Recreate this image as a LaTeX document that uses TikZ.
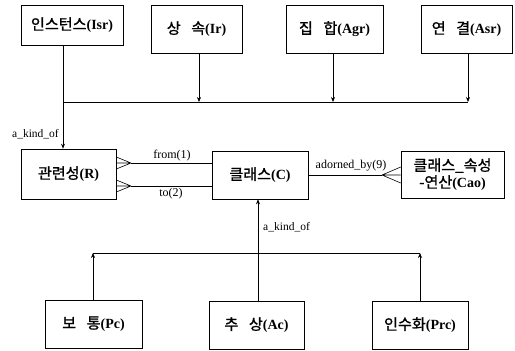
\documentclass[tikz,border=0pt]{standalone}
\usepackage{fontspec}
\setmainfont{Liberation Serif}
\newfontfamily\kr{Noto Sans CJK KR}[Scale=1.08, FakeBold=1.2]
\usetikzlibrary{arrows.meta}
\tikzset{
  box/.style={draw, line width=0.6pt, inner sep=0pt, align=center, font=\fontsize{14}{17}\selectfont},
  conn/.style={line width=0.6pt},
  arr/.style={conn, -{Stealth[length=5pt,width=4pt]}},
  lbl/.style={font=\fontsize{11.5}{12}\selectfont, inner sep=1pt},
}
\newcommand{\kb}[1]{{\kr #1}}
\newcommand{\ksp}{\hspace{0.7em}}
\begin{document}
\begin{tikzpicture}[x=1pt,y=-1pt]
\useasboundingbox (0,0) rectangle (515,351);
% top row
\node[box, minimum width=102pt, minimum height=40pt] (Isr) at (72,25) {\kb{인스턴스}\textbf{(Isr)}};
\node[box, minimum width=91pt, minimum height=48pt] (Ir) at (196.5,29) {\kb{상\ksp 속}\textbf{(Ir)}};
\node[box, minimum width=97pt, minimum height=48pt] (Agr) at (334.5,29) {\kb{집\ksp 합}\textbf{(Agr)}};
\node[box, minimum width=91pt, minimum height=48pt] (Asr) at (466.5,29) {\kb{연\ksp 결}\textbf{(Asr)}};
% middle row
\node[box, minimum width=95pt, minimum height=50pt] (R) at (68.5,174) {\kb{관련성}\textbf{(R)}};
\node[box, minimum width=96pt, minimum height=48pt] (C) at (260,175) {\kb{클래스}\textbf{(C)}};
\node[box, minimum width=103pt, minimum height=47pt] (Cao) at (452.5,174.5) {\kb{클래스\_속성}\\\kb{-연산}\textbf{(Cao)}};
% bottom row
\node[box, minimum width=97pt, minimum height=48pt] (Pc) at (93.5,324) {\kb{보\ksp 통}\textbf{(Pc)}};
\node[box, minimum width=95pt, minimum height=48pt] (Ac) at (256.5,325) {\kb{추\ksp 상}\textbf{(Ac)}};
\node[box, minimum width=96pt, minimum height=48pt] (Prc) at (420,325) {\kb{인수화}\textbf{(Prc)}};
% junction coordinates
\coordinate (j1) at (63,102);
\coordinate (jIr) at (199,102);
\coordinate (jAgr) at (333,102);
\coordinate (jAsr) at (468,102);
\coordinate (b1) at (93,253);
\coordinate (b2) at (258,253);
\coordinate (b3) at (420,253);
% top connectors
\draw[arr] (Isr.south -| j1) -- (R.north -| j1);
\draw[conn] (j1) -- (jAsr);
\draw[arr] (Ir.south -| jIr) -- (jIr);
\draw[arr] (Agr.south -| jAgr) -- (jAgr);
\draw[arr] (Asr.south -| jAsr) -- (jAsr);
\node[lbl, anchor=east] (akind1) at (60,134) {a\_kind\_of};
% from / to
\coordinate (f0) at (131,163);
\coordinate (t0) at (131,186);
\draw[conn] (C.west |- f0) -- (f0);
\draw[conn] (f0) -- (R.east |- 0,157) (f0) -- (R.east |- f0) (f0) -- (R.east |- 0,169);
\draw[conn] (C.west |- t0) -- (t0);
\draw[conn] (t0) -- (R.east |- 0,180) (t0) -- (R.east |- t0) (t0) -- (R.east |- 0,192);
\node[lbl, font=\fontsize{12}{13}\selectfont] (fromlbl) at (172,156) {from(1)};
\node[lbl, font=\fontsize{12}{13}\selectfont] (tolbl) at (171,194) {to(2)};
% adorned_by
\coordinate (a0) at (382,175);
\draw[conn] (C.east |- a0) -- (a0);
\draw[conn] (a0) -- (Cao.west |- 0,167) (a0) -- (Cao.west |- a0) (a0) -- (Cao.west |- 0,183);
\node[lbl, font=\fontsize{12}{13}\selectfont] (adlbl) at (351,166) {adorned\_by(9)};
% bottom connectors
\draw[arr] (Ac.north -| b2) -- (C.south -| b2);
\node[lbl, anchor=west] (akind2) at (262,227) {a\_kind\_of};
\draw[conn] (b1) -- (b3);
\draw[arr] (Pc.north -| b1) -- (b1);
\draw[arr] (Prc.north -| b3) -- (b3);
\end{tikzpicture}
\end{document}
